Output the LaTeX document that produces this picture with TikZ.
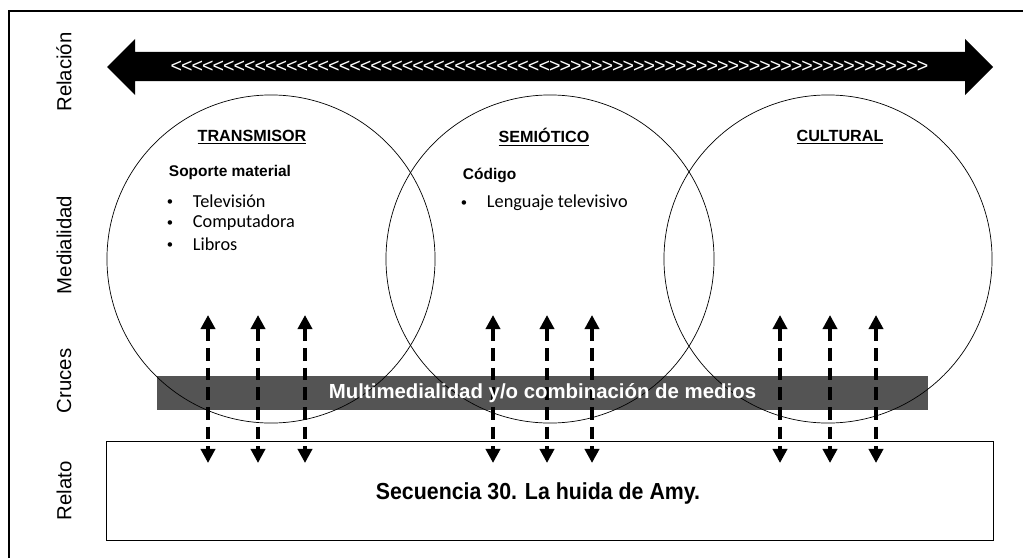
\documentclass[tikz,border=0pt]{standalone}
\usepackage{fontspec}
\setmainfont{Liberation Sans}
\newfontfamily\listfont{Carlito}
\newfontfamily\narrowfont[FakeStretch=0.92]{Liberation Sans}
\usetikzlibrary{arrows.meta}
\newcommand{\chevrons}[2]{\foreach \k in {1,...,#1}{#2\kern-0.7pt}}

\begin{document}
\begin{tikzpicture}[x=0.025cm,y=-0.025cm,
    axislabel/.style={rotate=90,font=\fontsize{14.5}{17}\selectfont},
    venn/.style={circle,draw,line width=0.5pt,minimum size=8.2cm,inner sep=0pt},
    title/.style={font=\bfseries\fontsize{11.5}{14}\selectfont},
    head/.style={anchor=west,font=\bfseries\fontsize{11}{13}\selectfont},
    item/.style={anchor=west,font=\listfont\fontsize{13}{15}\selectfont},
    dot/.style={anchor=west,font=\listfont\fontsize{9}{11}\selectfont},
    cross/.style={{Triangle[width=10pt,length=10pt]}-{Triangle[width=10pt,length=10pt]},
        line width=3pt,dash pattern=on 9pt off 5pt}]
    \useasboundingbox (0,0) rectangle (1023,558);
    %\draw [black!20,step=50] (0,0) grid (1023,558);
    \draw [line width=1pt] (9,558) -- (9,11) -- (1023,11);
    % side labels
    \node [axislabel] (lrel) at (64,72) {Relación};
    \node [axislabel] (lmed) at (64,245) {Medialidad};
    \node [axislabel] (lcru) at (64,381) {Cruces};
    \node [axislabel] (lrto) at (64,491) {Relato};
    % relation arrow
    \fill (107,67) -- (135,39) -- (135,52) -- (965,52) -- (965,39) -- (993,67)
        -- (965,95) -- (965,81) -- (135,81) -- (135,95) -- cycle;
    \node [text=white,font=\fontsize{14}{16}\selectfont,inner sep=0pt] (chev) at (549,67)
        {\chevrons{36}{<}\chevrons{36}{>}};
    % circles
    \node [venn] (trans) at (271,259) {};
    \node [venn] (semio) at (550,259) {};
    \node [venn] (cult) at (828,259) {};
    \node [title] (ttrans) at (252,137) {\underline{TRANSMISOR}};
    \node [title] (tsemio) at (544,137) {\underline{SEMIÓTICO}};
    \node [title] (tcult) at (840,137) {\underline{CULTURAL}};
    \node [head] (soporte) at (164,172) {Soporte material};
    \foreach \t [count=\i] in {Televisión,Computadora,Libros} {
        \node [dot] (b\i) at (162,181+21.5*\i) {•};
        \node [item] (s\i) at (188,180+21.5*\i) {\t};
    }
    \node [head] (codigo) at (458,175) {Código};
    \node [dot] (b4) at (456,204) {•};
    \node [item] (s4) at (482,203) {Lenguaje televisivo};
    % relato
    \node [draw,line width=0.6pt,minimum width=22.15cm,minimum height=2.475cm] (relato) at (550,490.5) {};
    \node [font=\narrowfont\bfseries\fontsize{16.5}{19}\selectfont] (secuencia) at (538,493)
        {Secuencia 30. La huida de Amy.};
    % crossings
    \foreach \x [count=\i] in {208,258,305,493,547,592,780,830,876} {
        \coordinate (up\i) at (\x,315);
        \coordinate (dn\i) at (\x,463);
        \draw [cross] (up\i) -- (dn\i);
    }
    \node [fill=black,fill opacity=0.67,text opacity=1,text=white,
        minimum width=19.275cm,minimum height=0.85cm,
        font=\bfseries\fontsize{14.5}{17}\selectfont] (multi) at (542.5,393)
        {Multimedialidad y/o combinación de medios};
\end{tikzpicture}
\end{document}
